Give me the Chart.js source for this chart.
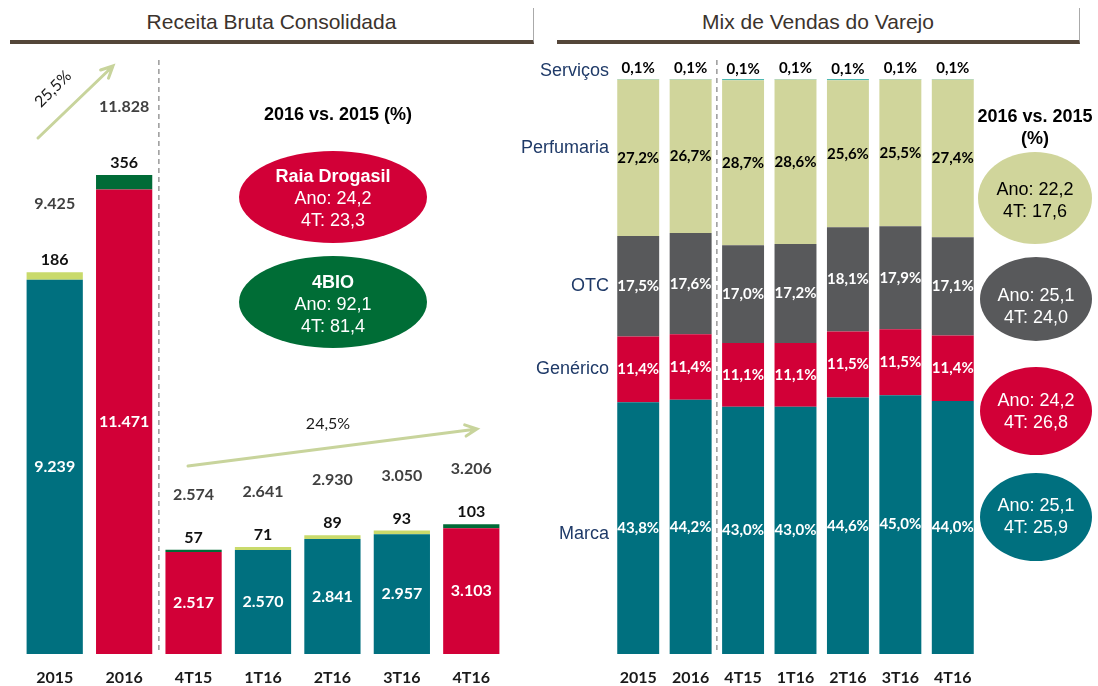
<!DOCTYPE html>
<html>
<head>
<meta charset="utf-8">
<script src="https://cdn.jsdelivr.net/npm/chart.js@4.4.1/dist/chart.umd.min.js"></script>
<style>
  body { margin: 0; background: #fff; width: 1098px; height: 686px; position: relative; overflow: hidden; font-family: "Liberation Sans", Arial, sans-serif; }
  .titulo { position: absolute; top: 8px; height: 32px; line-height: 28px; text-align: center; font-size: 21px; color: #3b332d; border-bottom: 4px solid #544639; border-right: 1px solid #aaa; }
  canvas { position: absolute; top: 0; }
</style>
</head>
<body>
<div class="titulo" style="left:10px;width:523px">Receita Bruta Consolidada</div>
<div class="titulo" style="left:557px;width:522px">Mix de Vendas do Varejo</div>
<canvas id="receita" width="510" height="686" style="left:0"></canvas>
<canvas id="mix" width="588" height="686" style="left:510px"></canvas>
<script>
// Receita bruta (R$ milhões)
const periodos = ["2015", "2016", "4T15", "1T16", "2T16", "3T16", "4T16"];
const receitaBase = [9239, 11471, 2517, 2570, 2841, 2957, 3103];
const receita4bio = [186, 356, 57, 71, 89, 93, 103];
const receitaTotal = [9425, 11828, 2574, 2641, 2930, 3050, 3206];

// Mix de vendas (%)
const mixMarca = [43.8, 44.2, 43.0, 43.0, 44.6, 45.0, 44.0];
const mixGenerico = [11.4, 11.4, 11.1, 11.1, 11.5, 11.5, 11.4];
const mixOTC = [17.5, 17.6, 17.0, 17.2, 18.1, 17.9, 17.1];
const mixPerfumaria = [27.2, 26.7, 28.7, 28.6, 25.6, 25.5, 27.4];
const mixServicos = [0.1, 0.1, 0.1, 0.1, 0.1, 0.1, 0.1];

const TEAL = "#00707f", RED = "#d20037", DKGREEN = "#006b37", LTGREEN = "#c9da6b";
const OLIVE = "#d0d59b", GRAY = "#58595b", SEAFOAM = "#4fbab2";

const corBase = [TEAL, RED, RED, TEAL, TEAL, TEAL, RED];
const corTopo = [LTGREEN, DKGREEN, DKGREEN, LTGREEN, LTGREEN, LTGREEN, DKGREEN];

function milhar(n) {
  return String(n).replace(/\B(?=(\d{3})+(?!\d))/g, ".");
}
function pct(v) {
  return v.toFixed(1).replace(".", ",") + "%";
}

function seta(ctx, x1, y1, x2, y2, cor) {
  const ang = Math.atan2(y2 - y1, x2 - x1);
  ctx.save();
  ctx.strokeStyle = cor;
  ctx.lineWidth = 3;
  ctx.lineCap = "round";
  ctx.beginPath();
  ctx.moveTo(x1, y1);
  ctx.lineTo(x2, y2);
  ctx.moveTo(x2 - 13 * Math.cos(ang - 0.45), y2 - 13 * Math.sin(ang - 0.45));
  ctx.lineTo(x2, y2);
  ctx.lineTo(x2 - 13 * Math.cos(ang + 0.45), y2 - 13 * Math.sin(ang + 0.45));
  ctx.stroke();
  ctx.restore();
}

function elipse(ctx, x, y, rx, ry, cor, linhas, corTexto, ty) {
  ctx.save();
  ctx.beginPath();
  ctx.ellipse(x, y, rx, ry, 0, 0, Math.PI * 2);
  ctx.fillStyle = cor;
  ctx.fill();
  ctx.fillStyle = corTexto;
  ctx.textAlign = "center";
  ctx.textBaseline = "middle";
  linhas.forEach((l, i) => {
    ctx.font = (l.b ? "bold " : "") + "18px 'Liberation Sans'";
    ctx.fillText(l.t, x, ty + (i - (linhas.length - 1) / 2) * 22);
  });
  ctx.restore();
}

function divisoria(chart) {
  const m = chart.getDatasetMeta(0).data;
  const x = (m[1].x + m[2].x) / 2;
  const ctx = chart.ctx;
  ctx.save();
  ctx.strokeStyle = "#999";
  ctx.lineWidth = 1.5;
  ctx.setLineDash([5, 4]);
  ctx.beginPath();
  ctx.moveTo(x, 60);
  ctx.lineTo(x, chart.chartArea.bottom);
  ctx.stroke();
  ctx.restore();
}

const rotulosReceita = {
  id: "rotulosReceita",
  afterDatasetsDraw(chart) {
    const ctx = chart.ctx;
    const base = chart.getDatasetMeta(0).data;
    const topo = chart.getDatasetMeta(1).data;
    divisoria(chart);
    ctx.save();
    ctx.textAlign = "center";
    ctx.textBaseline = "middle";
    base.forEach((b, i) => {
      ctx.font = "bold 16px Lato";
      ctx.fillStyle = "#fff";
      ctx.fillText(milhar(receitaBase[i]), b.x, (b.y + b.base) / 2);
      ctx.fillStyle = "#111";
      ctx.fillText(milhar(receita4bio[i]), b.x, topo[i].y - 12);
      ctx.fillStyle = "#404040";
      ctx.fillText(milhar(receitaTotal[i]), b.x, topo[i].y - (i < 2 ? 68 : 55));
    });

    // crescimento
    seta(ctx, 38, 138, 113, 66, "#c8d49c");
    seta(ctx, 188, 466, 477, 429, "#c8d49c");
    ctx.fillStyle = "#1a1a1a";
    ctx.font = "16px Lato";
    ctx.fillText("24,5%", 328, 424);
    ctx.save();
    ctx.translate(53, 89);
    ctx.rotate(-Math.PI / 4);
    ctx.fillText("25,5%", 0, 0);
    ctx.restore();

    ctx.fillStyle = "#000";
    ctx.font = "bold 18px 'Liberation Sans'";
    ctx.fillText("2016 vs. 2015 (%)", 338, 115);
    ctx.restore();

    elipse(ctx, 333, 197, 94, 46, RED,
      [{ t: "Raia Drogasil", b: true }, { t: "Ano: 24,2" }, { t: "4T: 23,3" }], "#fff", 199);
    elipse(ctx, 333, 302, 94, 46, "#006d36",
      [{ t: "4BIO", b: true }, { t: "Ano: 92,1" }, { t: "4T: 81,4" }], "#fff", 305);
  }
};

const eixoX = {
  stacked: true,
  grid: { display: false, drawTicks: false },
  border: { display: false },
  ticks: { color: "#1a1a1a", font: { family: "Lato", weight: "bold", size: 16 }, padding: 14 },
  afterFit(scale) { scale.height = 32; }
};

new Chart(document.getElementById("receita"), {
  type: "bar",
  data: {
    labels: periodos,
    datasets: [
      { label: "Raia Drogasil", data: receitaBase, backgroundColor: corBase, barPercentage: 0.81, categoryPercentage: 1 },
      { label: "4BIO", data: receita4bio, backgroundColor: corTopo, barPercentage: 0.81, categoryPercentage: 1 }
    ]
  },
  options: {
    responsive: false,
    animation: false,
    layout: { padding: { left: 20, right: 4, top: 87, bottom: 0 } },
    plugins: { legend: { display: false }, tooltip: { enabled: false } },
    scales: {
      x: eixoX,
      y: { stacked: true, display: false, min: 0, max: 14000 }
    }
  },
  plugins: [rotulosReceita]
});

const nomesMix = ["Marca", "Genérico", "OTC", "Perfumaria", "Serviços"];

const rotulosMix = {
  id: "rotulosMix",
  afterDatasetsDraw(chart) {
    const ctx = chart.ctx;
    divisoria(chart);
    ctx.save();
    ctx.textAlign = "center";
    ctx.textBaseline = "middle";
    chart.data.datasets.forEach((ds, d) => {
      const meta = chart.getDatasetMeta(d).data;
      meta.forEach((el, i) => {
        ctx.font = "bold 15px Lato";
        if (d === 4) {
          ctx.fillStyle = "#000";
          ctx.fillText(pct(ds.data[i]), el.x, el.y - 9);
        } else {
          ctx.fillStyle = d === 3 ? "#000" : "#fff";
          ctx.fillText(pct(ds.data[i]), el.x, (el.y + el.base) / 2);
        }
      });
      // nome da categoria à esquerda
      const e0 = meta[0];
      const left = chart.chartArea.left - 3;
      let y = d === 4 ? e0.y - 7 : (e0.y + e0.base) / 2;
      if (d === 3) y -= 10;
      if (d === 0) y += 6;
      ctx.textAlign = "right";
      ctx.fillStyle = "#1f3a68";
      ctx.font = "18px 'Liberation Sans'";
      ctx.fillText(nomesMix[d], left, y);
      ctx.textAlign = "center";
    });

    ctx.fillStyle = "#000";
    ctx.font = "bold 18px 'Liberation Sans'";
    ctx.fillText("2016 vs. 2015", 525, 117);
    ctx.fillText("(%)", 525, 139);
    ctx.restore();

    elipse(ctx, 525, 198, 57, 46, OLIVE, [{ t: "Ano: 22,2" }, { t: "4T: 17,6" }], "#000", 201);
    elipse(ctx, 526, 299, 56, 42, GRAY, [{ t: "Ano: 25,1" }, { t: "4T: 24,0" }], "#fff", 307);
    elipse(ctx, 526, 411, 56, 44, RED, [{ t: "Ano: 24,2" }, { t: "4T: 26,8" }], "#fff", 412);
    elipse(ctx, 526, 517, 56, 44, TEAL, [{ t: "Ano: 25,1" }, { t: "4T: 25,9" }], "#fff", 517);
  }
};

const estiloMix = { barPercentage: 0.8, categoryPercentage: 1 };

new Chart(document.getElementById("mix"), {
  type: "bar",
  data: {
    labels: periodos,
    datasets: [
      { label: "Marca", data: mixMarca, backgroundColor: TEAL, ...estiloMix },
      { label: "Genérico", data: mixGenerico, backgroundColor: RED, ...estiloMix },
      { label: "OTC", data: mixOTC, backgroundColor: GRAY, ...estiloMix },
      { label: "Perfumaria", data: mixPerfumaria, backgroundColor: OLIVE, ...estiloMix },
      { label: "Serviços", data: mixServicos, backgroundColor: SEAFOAM, minBarLength: 2, ...estiloMix }
    ]
  },
  options: {
    responsive: false,
    animation: false,
    layout: { padding: { left: 102, right: 119, top: 79, bottom: 0 } },
    plugins: { legend: { display: false }, tooltip: { enabled: false } },
    scales: {
      x: eixoX,
      y: { stacked: true, display: false, min: 0, max: 100 }
    }
  },
  plugins: [rotulosMix]
});
</script>
</body>
</html>
